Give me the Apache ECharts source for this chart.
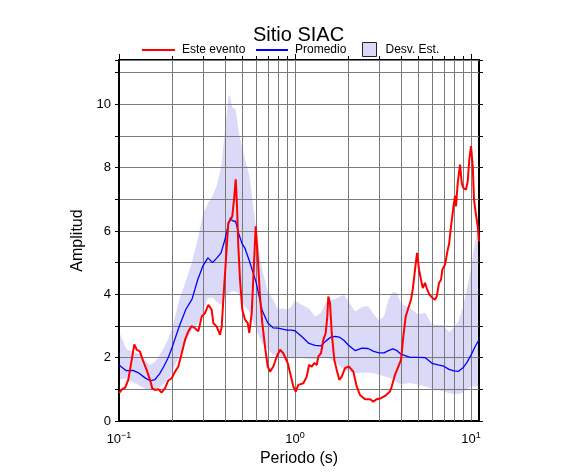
<!DOCTYPE html>
<html><head><meta charset="utf-8">
<script src="https://cdn.jsdelivr.net/npm/echarts@6/dist/echarts.min.js"></script>
<style>html,body{margin:0;padding:0;background:#fff}#c{width:586px;height:475px}</style>
</head><body><div id="c"></div>
<script>
// ---- data ----
const periodGrid = [0.10,0.11,0.12,0.13,0.14,0.15,0.16,0.17,0.18,0.19,0.20,0.22,0.24,0.26,0.28,0.30,0.32,0.34,0.36,0.38,0.40,0.42,0.43,0.44,0.46,0.48,0.50,0.52,0.55,0.60,0.65,0.70,0.75,0.80,0.85,0.90,0.95,1.0,1.1,1.2,1.3,1.4,1.5,1.6,1.7,1.8,1.9,2.0,2.2,2.4,2.6,2.8,3.0,3.2,3.4,3.6,3.8,4.0,4.5,5.0,5.5,6.0,6.5,7.0,7.5,8.0,8.5,9.0,9.5,10,10.5,11.1];
const promedio = [1.77,1.59,1.60,1.51,1.37,1.27,1.31,1.49,1.73,1.99,2.31,2.99,3.53,3.85,4.46,4.90,5.15,5.00,5.15,5.31,5.73,6.25,6.42,6.33,6.30,5.90,5.60,5.45,5.06,4.40,3.50,3.10,2.94,2.93,2.90,2.87,2.87,2.85,2.65,2.45,2.39,2.37,2.53,2.65,2.67,2.64,2.54,2.41,2.22,2.30,2.29,2.20,2.15,2.15,2.22,2.28,2.22,2.11,2.01,2.01,2.00,1.82,1.77,1.73,1.63,1.58,1.57,1.68,1.86,2.08,2.33,2.56];
const desvSup = [2.83,2.27,2.18,2.12,1.94,1.77,1.86,2.08,2.31,2.58,2.90,3.83,4.43,5.03,5.75,6.52,6.88,7.10,7.45,8.00,9.15,10.30,10.22,9.90,9.84,9.10,8.65,8.26,7.75,6.10,4.80,4.10,3.84,3.52,3.56,3.52,3.60,3.80,3.66,3.55,3.30,3.40,3.75,3.82,3.85,3.93,3.98,3.80,3.46,3.60,3.63,3.37,3.17,3.30,3.84,4.07,4.05,3.70,3.58,3.36,3.42,3.04,3.04,3.02,2.80,2.95,3.15,3.60,4.20,4.85,5.60,6.30];
const desvInf = [1.30,1.35,1.22,1.13,1.03,0.98,0.99,1.05,1.18,1.36,1.53,2.07,2.51,2.89,3.07,3.44,3.87,3.90,3.76,3.66,3.92,4.03,4.07,4.09,4.10,4.00,3.77,3.60,3.45,2.90,2.45,2.27,2.10,2.03,1.99,1.98,1.98,1.98,1.99,1.96,1.95,1.99,2.00,1.94,1.84,1.73,1.63,1.56,1.51,1.52,1.53,1.51,1.46,1.41,1.37,1.30,1.21,1.16,1.20,1.15,1.09,1.03,0.98,0.94,0.88,0.85,0.85,0.90,1.00,1.08,1.09,1.09];
const eventoPeriod = [0.100,0.104,0.1082,0.1129,0.1181,0.1221,0.1261,0.1316,0.1374,0.1437,0.150,0.1546,0.1602,0.1672,0.1748,0.1825,0.1906,0.1993,0.2081,0.2173,0.2272,0.2371,0.2476,0.2588,0.2703,0.2822,0.2951,0.3081,0.3217,0.3289,0.3363,0.3434,0.3591,0.3749,0.3833,0.3914,0.4039,0.4179,0.4313,0.4404,0.4521,0.4604,0.4683,0.4763,0.4870,0.5018,0.5199,0.5386,0.5500,0.5676,0.5826,0.5980,0.6139,0.6326,0.6520,0.6754,0.6998,0.7212,0.7530,0.7872,0.8219,0.8582,0.9089,0.9490,0.9780,1.0092,1.0441,1.1147,1.1655,1.2010,1.2442,1.2872,1.3283,1.3564,1.4052,1.4481,1.4944,1.5260,1.5461,1.5808,1.6164,1.6724,1.7257,1.7854,1.8423,1.9237,2.0270,2.1442,2.2418,2.3408,2.4994,2.6681,2.7858,2.9123,3.0812,3.2448,3.4654,3.5433,3.6997,3.8630,4.0029,4.1251,4.2566,4.4039,4.5604,4.6644,4.8071,4.9347,5.0657,5.1999,5.3169,5.4789,5.6024,5.7964,6.0592,6.2437,6.3841,6.5793,6.7540,6.8697,7.1181,7.3738,7.4989,7.6983,7.9332,8.1113,8.2188,8.4036,8.6596,8.8546,9.0418,9.3667,9.5772,9.7800,10.0,10.225,10.40,10.634,10.916,11.1];
const eventoAmp = [0.88,1.00,1.05,1.30,1.93,2.42,2.25,2.19,1.88,1.61,1.30,1.03,0.98,1.00,0.90,1.03,1.28,1.35,1.56,1.72,2.14,2.56,2.83,3.00,2.93,2.83,3.30,3.41,3.67,3.67,3.51,3.09,2.98,2.72,2.98,3.83,4.99,6.26,6.36,6.47,7.10,7.63,6.78,5.52,4.46,3.51,3.20,3.09,2.78,3.41,4.78,6.15,5.20,3.93,3.09,2.35,1.72,1.56,1.72,2.03,2.25,2.14,1.83,1.40,1.09,0.93,1.14,1.19,1.40,1.77,1.72,1.83,1.77,2.03,2.14,2.56,2.78,3.30,3.93,3.72,2.78,1.93,1.61,1.30,1.40,1.67,1.72,1.56,1.09,0.82,0.69,0.69,0.61,0.69,0.72,0.79,0.93,1.09,1.46,1.72,1.93,2.67,3.30,3.57,3.83,4.15,4.78,5.31,4.78,4.46,4.20,4.36,4.20,3.99,3.88,3.83,3.93,4.36,4.46,4.78,4.94,5.41,5.57,6.15,6.73,7.12,6.78,7.52,8.10,7.52,7.36,7.31,7.57,8.26,8.68,8.05,6.99,6.57,6.15,5.67];
const gridPeriods = [0.2,0.3,0.4,0.5,0.6,0.7,0.8,0.9,1,2,3,4,5,6,7,8,9,10];
const topTickPeriods = [0.1,0.2,0.3,0.4,0.5,0.6,0.7,0.8,0.9,1,2,3,4,5,6,7,8,9,10];
const majorPeriods = [0.1,1,10];
const xMin = 0.1, xMax = 11.1, yMin = 0, yMax = 11.4;
const titleText = 'Sitio SIAC';
const nameEvento = 'Este evento', namePromedio = 'Promedio', nameDesv = 'Desv. Est.';

// ---- styles ----
const FONT = '"Liberation Sans", Arial, Helvetica, sans-serif';
const bandColor = '#dadaf8';
const gridColor = '#7a7a7a';

const chart = echarts.init(document.getElementById('c'), null, {renderer: 'canvas'});

function isPow10(v) {
  const l = Math.log10(v);
  return Math.abs(l - Math.round(l)) < 1e-6;
}

const option = {
  animation: false,
  backgroundColor: '#fff',
  title: {
    text: titleText, left: 253, top: 25, padding: 0,
    textStyle: {fontFamily: FONT, fontSize: 20, fontWeight: 'normal', color: '#000'}
  },
  legend: [
    {data: [{name: nameEvento, icon: 'rect'}], left: 142, top: 44, padding: 0, itemWidth: 33, itemHeight: 2,
     textStyle: {fontFamily: FONT, fontSize: 12, color: '#000', padding: [0, 0, 0, 2]}},
    {data: [{name: namePromedio, icon: 'rect'}], left: 256, top: 44, padding: 0, itemWidth: 32, itemHeight: 2,
     textStyle: {fontFamily: FONT, fontSize: 12, color: '#000', padding: [0, 0, 0, 2]}},
    {data: [{name: nameDesv, icon: 'rect', itemStyle: {color: bandColor, borderColor: '#222', borderWidth: 1}}],
     left: 362, top: 42, padding: 0, itemWidth: 14, itemHeight: 14,
     textStyle: {fontFamily: FONT, fontSize: 12, color: '#000', padding: [0, 0, 0, 4]}}
  ],
  grid: {left: 119, right: 107, top: 60, bottom: 54, show: true, borderColor: '#000', borderWidth: 2, backgroundColor: 'transparent'},
  xAxis: [{
    type: 'log', logBase: 10, min: xMin, max: xMax, interval: 1,
    name: 'Periodo (s)', nameLocation: 'middle', nameGap: 23,
    nameTextStyle: {fontFamily: FONT, fontSize: 16, color: '#000'},
    axisLine: {show: true, lineStyle: {color: '#000', width: 2}},
    axisTick: {show: false},
    splitLine: {show: false},
    axisLabel: {
      margin: 10, color: '#000', fontFamily: FONT,
      formatter: function (v) {
        if (!isPow10(v)) return '';
        const e = Math.round(Math.log10(v));
        return '{b|10}{s|' + (e < 0 ? '\u2212' + (-e) : e) + '}';
      },
      rich: {
        b: {fontFamily: FONT, fontSize: 13, color: '#000', lineHeight: 16},
        s: {fontFamily: FONT, fontSize: 9, color: '#000', verticalAlign: 'top', lineHeight: 16, padding: [0, 0, 6, 0]}
      }
    }
  }],
  yAxis: [{
    type: 'value', min: yMin, max: yMax, interval: 1, position: 'left',
    name: 'Amplitud', nameLocation: 'middle', nameGap: 28, nameRotate: 90,
    nameTextStyle: {fontFamily: FONT, fontSize: 16, color: '#000'},
    axisLine: {show: true, lineStyle: {color: '#000', width: 2}},
    axisTick: {show: true, length: 4, lineStyle: {color: '#000', width: 1}},
    splitLine: {show: true, lineStyle: {color: gridColor, width: 1}},
    axisLabel: {margin: 8, color: '#000', fontFamily: FONT, fontSize: 13,
      formatter: function (v) { return (Math.abs(v - Math.round(v)) < 1e-6 && Math.round(v) % 2 === 0) ? String(Math.round(v)) : ''; }}
  }, {
    type: 'value', min: yMin, max: yMax, interval: 1, position: 'right',
    axisLine: {show: false},
    axisTick: {show: true, length: 4, lineStyle: {color: '#000', width: 1}},
    splitLine: {show: false},
    axisLabel: {show: false}
  }],
  series: [
    {
      name: nameDesv, type: 'custom', z: -1, silent: true,
      itemStyle: {color: bandColor},
      data: [[periodGrid[0], desvInf[0]]],
      renderItem: function (params, api) {
        const pts = [];
        for (let i = 0; i < periodGrid.length; i++) pts.push(api.coord([periodGrid[i], desvSup[i]]));
        for (let i = periodGrid.length - 1; i >= 0; i--) pts.push(api.coord([periodGrid[i], desvInf[i]]));
        return {type: 'polygon', shape: {points: pts}, style: {fill: bandColor}};
      }
    },
    {
      name: 'grid-v', type: 'custom', z: 1, silent: true,
      data: gridPeriods.map(p => [p, yMin]),
      renderItem: function (params, api) {
        const a = api.coord([api.value(0), yMin]);
        const b = api.coord([api.value(0), yMax]);
        const x = Math.round(a[0]) + 0.5;
        return {type: 'line', shape: {x1: x, y1: a[1], x2: x, y2: b[1]}, style: {stroke: gridColor, lineWidth: 1}};
      }
    },
    {
      name: 'ticks-top', type: 'custom', z: 4, silent: true,
      data: topTickPeriods.map(p => [p, yMax]),
      renderItem: function (params, api) {
        const p = api.value(0);
        const a = api.coord([p, yMax]);
        const len = majorPeriods.some(m => Math.abs(m - p) < 1e-9) ? 6 : 4;
        const x = Math.round(a[0]) + 0.5;
        return {type: 'line', shape: {x1: x, y1: a[1], x2: x, y2: a[1] - len}, style: {stroke: '#000', lineWidth: 1}};
      }
    },
    {
      name: namePromedio, type: 'line', z: 3, symbol: 'none', showSymbol: false,
      lineStyle: {color: '#0000ff', width: 1.3}, itemStyle: {color: '#0000ff'},
      data: periodGrid.map((p, i) => [p, promedio[i]])
    },
    {
      name: nameEvento, type: 'line', z: 3, symbol: 'none', showSymbol: false,
      lineStyle: {color: '#ff0000', width: 2}, itemStyle: {color: '#ff0000'},
      data: eventoPeriod.map((p, i) => [p, eventoAmp[i]])
    }
  ]
};
chart.setOption(option);
</script>
</body></html>
